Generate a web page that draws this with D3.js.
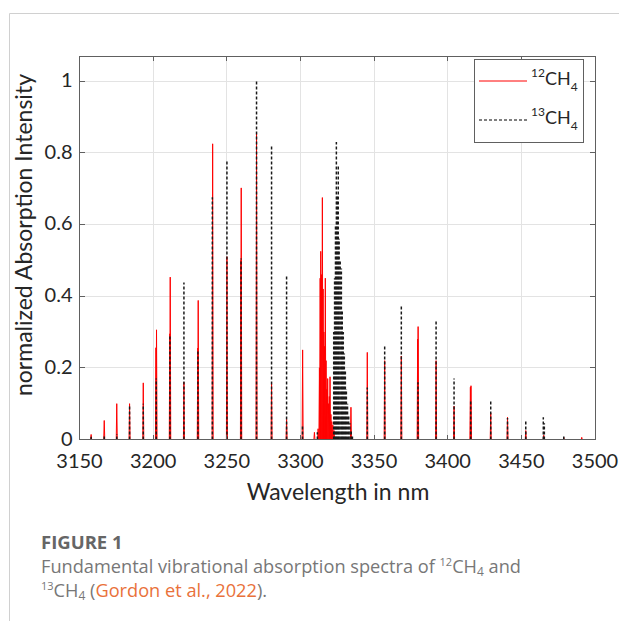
<!DOCTYPE html>
<html>

<head>
  <meta charset="utf-8" />
  <title>CH4 spectra</title>
  <style>
    body {
      margin: 0;
      background: #fff;
    }

    .grid line {
      stroke: #e3e3e3;
      stroke-width: 1px;
      shape-rendering: crispEdges;
    }

    .frame {
      fill: none;
      stroke: #606060;
      stroke-width: 1px;
      shape-rendering: crispEdges;
    }

    .tick {
      stroke: #606060;
      stroke-width: 1px;
      shape-rendering: crispEdges;
    }

    .ticklabel {
      font-family: Lato, "Open Sans", sans-serif;
      font-size: 20px;
      fill: #262626;
    }

    .caption {
      font-family: "Open Sans", Lato, sans-serif;
      fill: #777;
    }
  </style>
  <script src="https://cdnjs.cloudflare.com/ajax/libs/d3/7.8.5/d3.min.js"></script>
</head>

<body>
  <div id="chart"></div>
  <script>
    // axis ticks
    var xTicks = [3150, 3200, 3250, 3300, 3350, 3400, 3450, 3500];
    var yTicks = [0, 0.2, 0.4, 0.6, 0.8, 1];

    // 12CH4 line positions (nm) and normalized intensities
    var wl12 = [3157.9, 3166.8, 3175.3, 3184.0, 3193.3, 3201.9, 3202.3, 3211.3, 3211.6, 3220.9,
      3230.3, 3230.6, 3240.4, 3250.1, 3259.6, 3259.8, 3270.2, 3280.4, 3290.6, 3301.5,
      3309.5, 3312.0, 3312.9, 3313.4, 3313.8, 3314.3, 3314.9, 3315.4, 3315.9, 3316.5,
      3316.9, 3317.4, 3317.9, 3318.5, 3319.0, 3319.6, 3320.1, 3320.7, 3321.3, 3322.0,
      3322.8, 3334.3, 3345.4, 3357.2, 3368.5, 3379.6, 3379.9, 3392.1, 3404.3, 3415.4,
      3415.8, 3429.2, 3440.6, 3453.0, 3465.2, 3478.8, 3491.0];
    var int12 = [0.014, 0.053, 0.10, 0.10, 0.158, 0.256, 0.306, 0.295, 0.453, 0.16,
      0.255, 0.388, 0.825, 0.51, 0.50, 0.702, 0.854, 0.155, 0.056, 0.25,
      0.02, 0.03, 0.2, 0.45, 0.525, 0.46, 0.675, 0.42, 0.3, 0.26,
      0.45, 0.22, 0.14, 0.17, 0.1, 0.12, 0.175, 0.07, 0.05, 0.04,
      0.025, 0.09, 0.243, 0.22, 0.233, 0.28, 0.315, 0.22, 0.093, 0.146,
      0.15, 0.074, 0.062, 0.025, 0.012, 0.006, 0.006];

    // 13CH4 line positions (nm) and normalized intensities
    var wl13 = [3157.9, 3166.8, 3175.3, 3184.0, 3193.3, 3202.1, 3211.4, 3220.9, 3230.4, 3240.2,
      3250.1, 3259.7, 3270.2, 3280.4, 3290.6, 3301.4, 3311.5, 3322.6, 3323.2, 3323.8,
      3324.4, 3325.0, 3325.7, 3326.3, 3327.0, 3327.8, 3328.4, 3329.1, 3329.8, 3330.5,
      3331.2, 3332.0, 3332.8, 3333.6, 3334.5, 3335.3, 3345.4, 3357.2, 3368.5, 3379.8,
      3392.1, 3404.3, 3415.6, 3429.2, 3440.6, 3453.0, 3464.9, 3465.6, 3478.8];
    var int13 = [0.008, 0.01, 0.015, 0.096, 0.10, 0.17, 0.29, 0.438, 0.25, 0.676,
      0.776, 0.505, 1.0, 0.823, 0.46, 0.04, 0.02, 0.3, 0.45, 0.6,
      0.83, 0.68, 0.765, 0.56, 0.5, 0.477, 0.36, 0.3, 0.24, 0.19,
      0.14, 0.1, 0.07, 0.045, 0.025, 0.012, 0.145, 0.262, 0.373, 0.16,
      0.33, 0.17, 0.107, 0.11, 0.06, 0.056, 0.062, 0.045, 0.014];

    var W = 619, H = 621;
    var plot = { left: 79.5, right: 595, top: 56, bottom: 439.5 };

    var svg = d3.select('#chart').append('svg')
      .attr('width', W)
      .attr('height', H);

    // card border
    svg.append('path')
      .attr('d', 'M9.5,' + H + 'V13.5H' + W)
      .attr('fill', 'none')
      .attr('stroke', '#d0d0d0')
      .attr('stroke-width', 1);

    var xScale = d3.scaleLinear()
      .domain([3150, 3500])
      .range([plot.left, plot.right]);

    var yScale = d3.scaleLinear()
      .domain([0, 1.07])
      .range([plot.bottom, plot.top]);

    // grid
    var grid = svg.append('g').attr('class', 'grid');
    grid.selectAll('.gx')
      .data(xTicks.slice(1, -1))
      .enter()
      .append('line')
      .attr('x1', d => xScale(d)).attr('x2', d => xScale(d))
      .attr('y1', plot.top).attr('y2', plot.bottom);
    grid.selectAll('.gy')
      .data(yTicks.slice(1))
      .enter()
      .append('line')
      .attr('x1', plot.left).attr('x2', plot.right)
      .attr('y1', d => yScale(d)).attr('y2', d => yScale(d));

    svg.append('clipPath').attr('id', 'clip')
      .append('rect')
      .attr('x', plot.left).attr('y', plot.top)
      .attr('width', plot.right - plot.left)
      .attr('height', plot.bottom - plot.top);

    // 12CH4: one path, each line a thin spike on a zero baseline
    var hw = 0.35;
    function sticks(wls, ints) {
      var pts = [[3150, 0]];
      wls.forEach(function (w, i) {
        pts.push([w - hw, 0], [w, ints[i]], [w + hw, 0]);
      });
      pts.push([3500, 0]);
      return pts;
    }

    var line = d3.line()
      .x(d => xScale(d[0]))
      .y(d => yScale(d[1]));

    var series = svg.append('g').attr('clip-path', 'url(#clip)');
    series.append('path')
      .attr('d', line(sticks(wl12, int12)))
      .attr('fill', 'none')
      .attr('stroke', '#ff0000')
      .attr('stroke-width', 1);

    // 13CH4: dashed baseline plus one dashed stick per line, so the dashes stay readable
    series.append('path')
      .attr('d', line([[3150, 0], [3500, 0]]))
      .attr('fill', 'none')
      .attr('stroke', '#000')
      .attr('stroke-width', 1.1)
      .attr('stroke-dasharray', '3,2');
    series.selectAll('.s13')
      .data(wl13)
      .enter()
      .append('path')
      .attr('d', (d, i) => line([[d, 0], [d, int13[i]]]))
      .attr('fill', 'none')
      .attr('stroke', '#1a1a1a')
      .attr('stroke-width', 1.5)
      .attr('stroke-dasharray', '3,2');

    // frame and inward ticks on all four sides
    svg.append('rect')
      .attr('class', 'frame')
      .attr('x', plot.left).attr('y', plot.top)
      .attr('width', plot.right - plot.left)
      .attr('height', plot.bottom - plot.top);

    var tl = 5;
    var ticks = svg.append('g');
    xTicks.forEach(function (t) {
      var x = xScale(t);
      ticks.append('line').attr('class', 'tick')
        .attr('x1', x).attr('x2', x).attr('y1', plot.bottom).attr('y2', plot.bottom - tl);
      ticks.append('line').attr('class', 'tick')
        .attr('x1', x).attr('x2', x).attr('y1', plot.top).attr('y2', plot.top + tl);
    });
    yTicks.forEach(function (t) {
      var y = yScale(t);
      ticks.append('line').attr('class', 'tick')
        .attr('x1', plot.left).attr('x2', plot.left + tl).attr('y1', y).attr('y2', y);
      ticks.append('line').attr('class', 'tick')
        .attr('x1', plot.right).attr('x2', plot.right - tl).attr('y1', y).attr('y2', y);
    });

    svg.selectAll('.xlab')
      .data(xTicks)
      .enter()
      .append('text')
      .attr('class', 'ticklabel')
      .attr('x', d => xScale(d))
      .attr('y', 468)
      .attr('text-anchor', 'middle')
      .text(d => d);

    svg.selectAll('.ylab')
      .data(yTicks)
      .enter()
      .append('text')
      .attr('class', 'ticklabel')
      .attr('x', plot.left - 7)
      .attr('y', d => yScale(d) + 6)
      .attr('text-anchor', 'end')
      .text(d => d);

    svg.append('text')
      .attr('class', 'ticklabel')
      .style('font-size', '23px')
      .attr('x', 338)
      .attr('y', 500)
      .attr('text-anchor', 'middle')
      .text('Wavelength in nm');

    svg.append('text')
      .attr('class', 'ticklabel')
      .style('font-size', '23px')
      .attr('transform', 'translate(32,235) rotate(-90)')
      .attr('text-anchor', 'middle')
      .text('normalized Absorption Intensity');

    // legend
    var lg = svg.append('g');
    lg.append('rect')
      .attr('x', 474.5).attr('y', 59.5)
      .attr('width', 109).attr('height', 83)
      .attr('fill', '#fff')
      .attr('stroke', '#606060')
      .attr('stroke-width', 1);
    var legendItems = [
      { iso: '12', y: 81, stroke: '#ff0000', dash: null },
      { iso: '13', y: 120, stroke: '#000', dash: '3,2' }
    ];
    legendItems.forEach(function (d) {
      lg.append('line')
        .attr('x1', 479).attr('x2', 527)
        .attr('y1', d.y).attr('y2', d.y)
        .attr('stroke', d.stroke)
        .attr('stroke-width', 1)
        .attr('stroke-dasharray', d.dash);
      var t = lg.append('text')
        .attr('class', 'ticklabel')
        .attr('x', 531)
        .attr('y', d.y - 4);
      t.append('tspan').style('font-size', '12px').text(d.iso);
      t.append('tspan').style('font-size', '18px').attr('dy', 8).text('CH');
      t.append('tspan').style('font-size', '12px').attr('dy', 6).text('4');
    });

    // caption
    svg.append('text')
      .attr('class', 'caption')
      .attr('x', 41)
      .attr('y', 549)
      .style('font-size', '18.5px')
      .style('font-weight', 'bold')
      .style('fill', '#666')
      .text('FIGURE 1');

    var c1 = svg.append('text')
      .attr('class', 'caption')
      .attr('x', 41)
      .attr('y', 573)
      .style('font-size', '18.2px');
    c1.append('tspan').text('Fundamental vibrational absorption spectra of ');
    c1.append('tspan').style('font-size', '11px').attr('dy', -7).text('12');
    c1.append('tspan').attr('dy', 7).text('CH');
    c1.append('tspan').style('font-size', '12px').attr('dy', 3).text('4');
    c1.append('tspan').attr('dy', -3).text(' and');

    var c2 = svg.append('text')
      .attr('class', 'caption')
      .attr('x', 41)
      .attr('y', 597)
      .style('font-size', '18.2px');
    c2.append('tspan').style('font-size', '11px').attr('dy', -7).text('13');
    c2.append('tspan').attr('dy', 7).text('CH');
    c2.append('tspan').style('font-size', '12px').attr('dy', 3).text('4');
    c2.append('tspan').attr('dy', -3).text(' (');
    c2.append('tspan').style('fill', '#e9713a').text('Gordon et al., 2022');
    c2.append('tspan').text(').');
  </script>
</body>

</html>
